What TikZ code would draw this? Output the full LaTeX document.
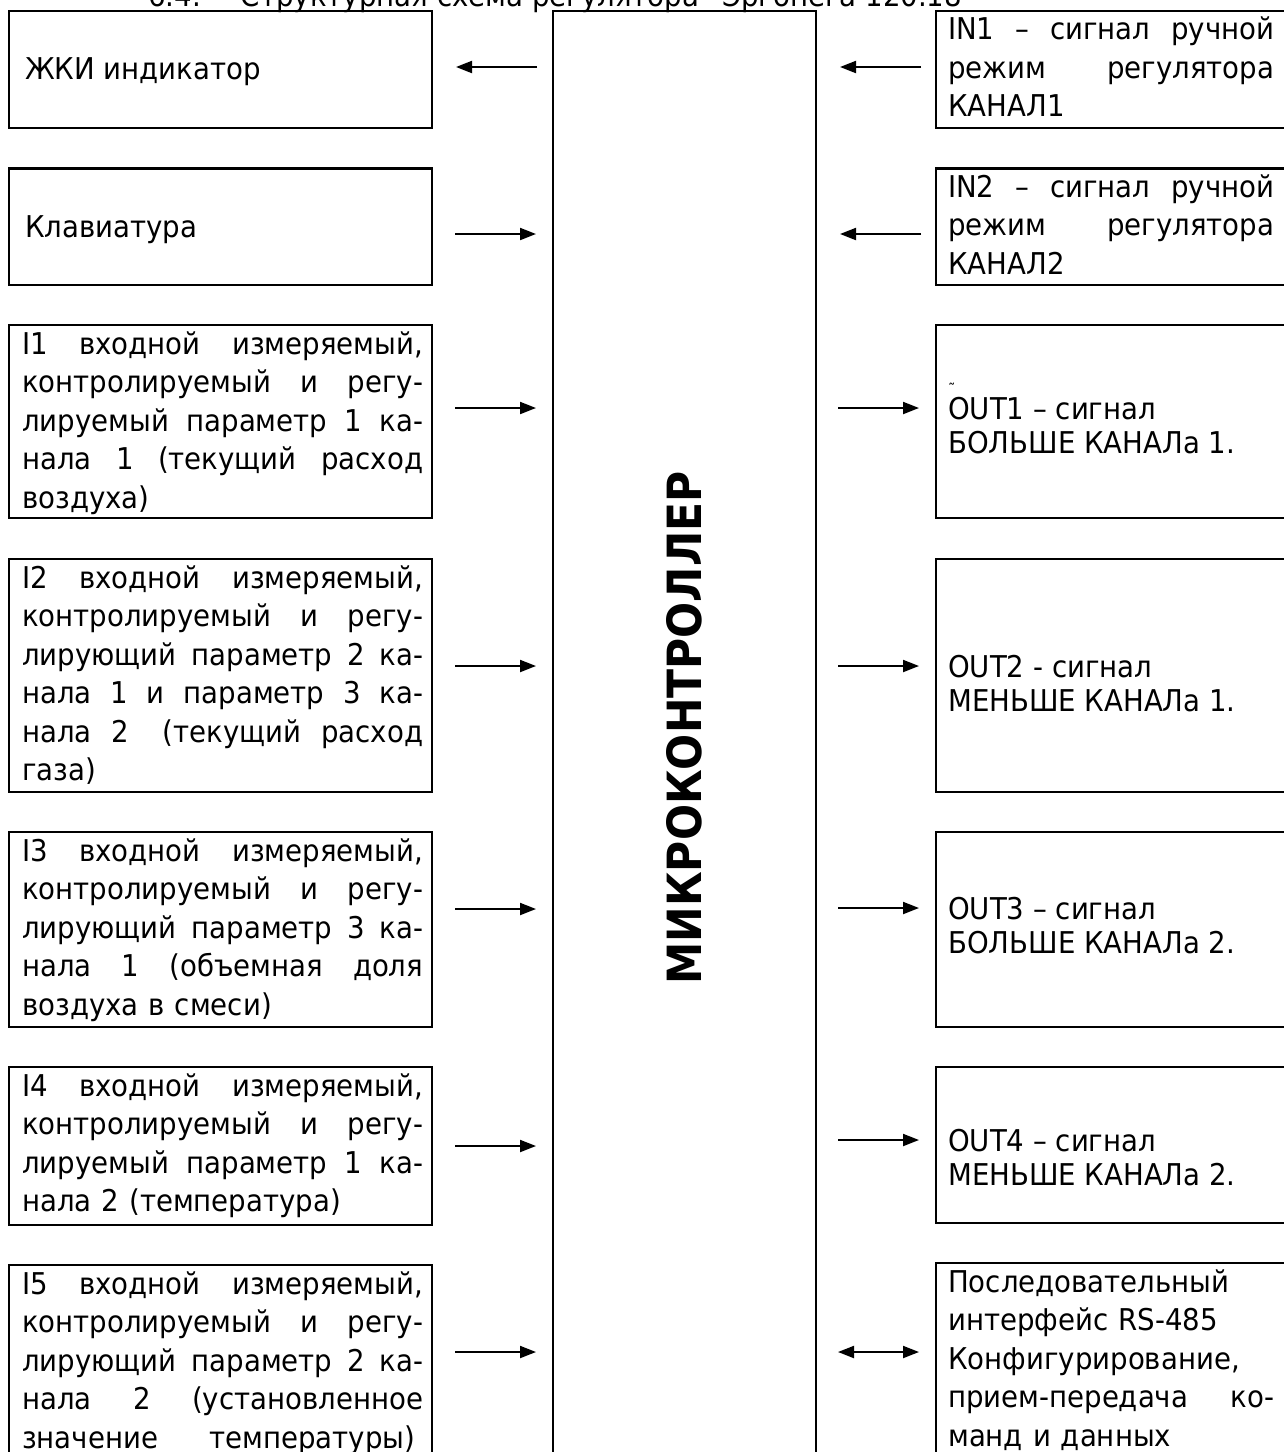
\documentclass[tikz,border=0pt]{standalone}
\usepackage{fontspec}
\setmainfont{DejaVu Sans}[FakeStretch=0.92]
\usetikzlibrary{arrows.meta}
\newcommand{\jL}[1]{\makebox[401pt][s]{\spaceskip=.3em plus 1fil\relax #1}}
\newcommand{\jR}[1]{\makebox[326pt][s]{\spaceskip=.3em plus 1fil\relax #1}}
\begin{document}
\begin{tikzpicture}[x=1pt,y=-1pt,
  box/.style={draw, line width=2.4pt, rectangle, inner sep=0pt, anchor=north west},
  txt/.style={inner sep=0pt, anchor=north west, align=left,
              font=\fontsize{30}{38.5}\selectfont},
  ltxt/.style={txt, text width=401pt},
  rtxt/.style={txt, text width=326pt},
  otxt/.style={inner sep=0pt, anchor=north west, align=left,
              font=\fontsize{30}{34}\selectfont},
  one/.style={inner sep=0pt, anchor=base west, font=\fontsize{30}{36}\selectfont},
  arr/.style={line width=2pt, -{Triangle[length=16pt,width=12pt]}},
  darr/.style={line width=2pt, {Triangle[length=16pt,width=12pt]}-{Triangle[length=16pt,width=12pt]}}
]
\useasboundingbox (0,0) rectangle (1284,1452);
\clip (0,0) rectangle (1284,1452);

% title (cut off at top)
\node[one] (title) at (148,6) {6.4.\hspace{40pt}Структурная схема регулятора "Эргонега 120.18"};

% central block
\node[box, minimum width=263pt, minimum height=1500pt] (mc) at (552,9.5) {};
\node[rotate=90, inner sep=0pt] (mct) at (684,728)
  {\resizebox{513pt}{35pt}{\bfseries МИКРОКОНТРОЛЛЕР}};

% left boxes
\node[box, minimum width=423pt, minimum height=117.2pt] (zh) at (8,9.5) {};
\node[box, minimum width=423pt, minimum height=116.4pt] (kl) at (8,167.3) {};
\node[box, minimum width=423pt, minimum height=193pt] (i1) at (8,324) {};
\node[box, minimum width=423pt, minimum height=233pt] (i2) at (8,558) {};
\node[box, minimum width=423pt, minimum height=195pt] (i3) at (8,831) {};
\node[box, minimum width=423pt, minimum height=158pt] (i4) at (8,1066) {};
\node[box, minimum width=423pt, minimum height=300pt] (i5) at (8,1264) {};

\node[one] (zht) at (25,79) {ЖКИ индикатор};
\node[one] (klt) at (25,237) {Клавиатура};
\node[ltxt] (i1t) at (22,327) {\jL{\strut I1 входной измеряемый,}\\
  \jL{контролируемый и регу-}\\ \jL{лируемый параметр 1 ка-}\\
  \jL{нала 1 (текущий расход}\\ воздуха)};
\node[ltxt] (i2t) at (22,561) {\jL{\strut I2 входной измеряемый,}\\
  \jL{контролируемый и регу-}\\ \jL{лирующий параметр 2 ка-}\\
  \jL{нала 1 и параметр 3 ка-}\\
  \jL{нала 2\hskip .3em plus 2.2fil\relax(текущий расход}\\ газа)};
\node[ltxt] (i3t) at (22,834) {\jL{\strut I3 входной измеряемый,}\\
  \jL{контролируемый и регу-}\\ \jL{лирующий параметр 3 ка-}\\
  \jL{нала 1 (объемная доля}\\ воздуха в смеси)};
\node[ltxt] (i4t) at (22,1069) {\jL{\strut I4 входной измеряемый,}\\
  \jL{контролируемый и регу-}\\ \jL{лируемый параметр 1 ка-}\\
  нала 2 (температура)};
\node[ltxt] (i5t) at (22,1267) {\jL{\strut I5 входной измеряемый,}\\
  \jL{контролируемый и регу-}\\ \jL{лирующий параметр 2 ка-}\\
  \jL{нала 2 (установленное}\\ \makebox[393pt][s]{\spaceskip=.3em plus 1fil\relax значение температуры)}};

% right boxes
\node[box, minimum width=400pt, minimum height=117.2pt] (in1) at (935,9.5) {};
\node[box, minimum width=400pt, minimum height=116.4pt] (in2) at (935,167.3) {};
\node[box, minimum width=400pt, minimum height=193pt] (o1) at (935,324) {};
\node[box, minimum width=400pt, minimum height=233pt] (o2) at (935,558) {};
\node[box, minimum width=400pt, minimum height=195pt] (o3) at (935,831) {};
\node[box, minimum width=400pt, minimum height=156pt] (o4) at (935,1066) {};
\node[box, minimum width=400pt, minimum height=300pt] (rs) at (935,1262) {};

\node[rtxt] (in1t) at (948,12.5) {\jR{\strut IN1 – сигнал ручной}\\
  \jR{режим регулятора}\\ КАНАЛ1};
\node[rtxt] (in2t) at (948,170.3) {\jR{\strut IN2 – сигнал ручной}\\
  \jR{режим регулятора}\\ КАНАЛ2};
\node[otxt] (o1t) at (948,395.2) {\strut\smash{\rlap{\raisebox{24pt}{\fontsize{16}{16}\selectfont ˜}}}OUT1 – сигнал\\ БОЛЬШЕ КАНАЛа 1.};
\node[otxt] (o2t) at (948,653.2) {\strut OUT2 - сигнал\\ МЕНЬШЕ КАНАЛа 1.};
\node[otxt] (o3t) at (948,895.2) {\strut OUT3 – сигнал\\ БОЛЬШЕ КАНАЛа 2.};
\node[otxt] (o4t) at (948,1127.2) {\strut OUT4 – сигнал\\ МЕНЬШЕ КАНАЛа 2.};
\node[rtxt] (rst) at (948,1265) {\strut Последовательный\\ интерфейс RS-485\\
  Конфигурирование,\\ \jR{прием-передача ко-}\\ манд и данных};

% arrow end points
\coordinate (aL1) at (537,67);   \coordinate (bL1) at (456,67);
\coordinate (aL2) at (455,234);  \coordinate (bL2) at (536,234);
\coordinate (aL3) at (455,408);  \coordinate (bL3) at (536,408);
\coordinate (aL4) at (455,666);  \coordinate (bL4) at (536,666);
\coordinate (aL5) at (455,909);  \coordinate (bL5) at (536,909);
\coordinate (aL6) at (455,1146); \coordinate (bL6) at (536,1146);
\coordinate (aL7) at (455,1352); \coordinate (bL7) at (536,1352);
\coordinate (aR1) at (921,67);   \coordinate (bR1) at (840,67);
\coordinate (aR2) at (921,234);  \coordinate (bR2) at (840,234);
\coordinate (aR3) at (838,408);  \coordinate (bR3) at (919,408);
\coordinate (aR4) at (838,666);  \coordinate (bR4) at (919,666);
\coordinate (aR5) at (838,908);  \coordinate (bR5) at (919,908);
\coordinate (aR6) at (838,1140); \coordinate (bR6) at (919,1140);
\coordinate (aR7) at (838,1352); \coordinate (bR7) at (919,1352);

\foreach \k in {L1,L2,L3,L4,L5,L6,L7,R1,R2,R3,R4,R5,R6}
  \draw[arr] (a\k) -- (b\k);
\draw[darr] (aR7) -- (bR7);
\end{tikzpicture}
\end{document}
